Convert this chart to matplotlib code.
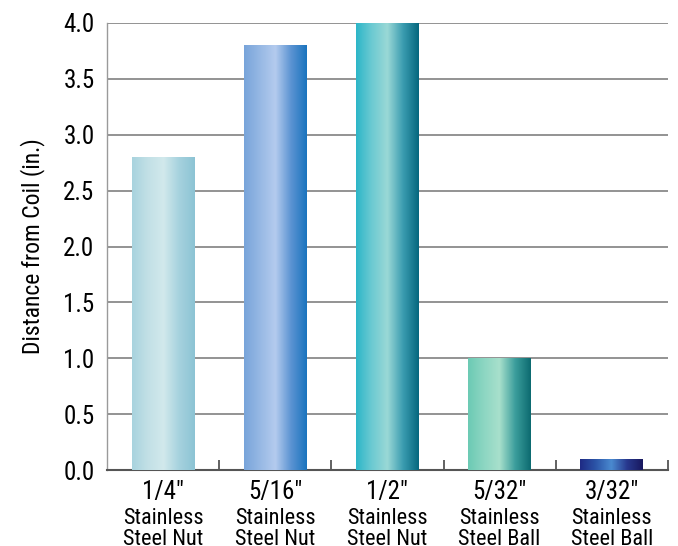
import numpy as np
import matplotlib.pyplot as plt
from matplotlib.colors import LinearSegmentedColormap

plt.rcParams['font.family'] = ['Roboto Condensed', 'Archivo Narrow', 'DejaVu Sans']

# Data
sizes = ['1/4"', '5/16"', '1/2"', '5/32"', '3/32"']
materials = ['Stainless\nSteel Nut', 'Stainless\nSteel Nut', 'Stainless\nSteel Nut',
             'Stainless\nSteel Ball', 'Stainless\nSteel Ball']
distances = [2.8, 3.8, 4.0, 1.0, 0.1]

# gradient colour stops per bar (left -> right)
bar_gradients = [
    ['#a8d3de', '#c2e0e6', '#d2e9ec', '#a6d2de', '#8cc3d4'],
    ['#78a4da', '#96b8e4', '#b4cbee', '#5b93d2', '#1a74be'],
    ['#2cb6c8', '#6ccad2', '#9ad8d6', '#3a9cb0', '#06677e'],
    ['#6ccab4', '#8cd6c2', '#a8e0cc', '#3c9e9c', '#0c6a70'],
    ['#1e2a84', '#2c55a8', '#4a8ad0', '#28388e', '#18185e'],
]

fig = plt.figure(figsize=(6.78, 5.46), dpi=100)
ax = fig.add_axes([0.158, 0.139, 0.827, 0.819])

x = np.arange(len(sizes))
bars = ax.bar(x, distances, width=0.56, color='none', zorder=3)

grad = np.linspace(0, 1, 256).reshape(1, -1)
for b, stops in zip(bars, bar_gradients):
    cmap = LinearSegmentedColormap.from_list('g', stops)
    x0, y0 = b.get_x(), b.get_y()
    im = ax.imshow(grad, cmap=cmap, aspect='auto', zorder=3,
                   extent=(x0, x0 + b.get_width(), y0, y0 + b.get_height()))
    im.set_clip_path(b)

ax.set_xlim(-0.5, 4.5)
ax.set_ylim(0, 4.0)
ax.set_yticks(np.arange(0, 4.01, 0.5))
ax.set_yticklabels([f'{v:.1f}' for v in np.arange(0, 4.01, 0.5)], fontsize=18)
ax.tick_params(axis='y', length=0, pad=9)
ax.yaxis.grid(True, color='#8a8a8a', linewidth=1.3, zorder=0)
ax.set_axisbelow(True)

ax.set_xticks(x + 0.5)
ax.set_xticklabels([])
ax.tick_params(axis='x', direction='in', length=7, width=1.3, color='#555555')

for s in ['top', 'right']:
    ax.spines[s].set_visible(False)
ax.spines['left'].set_color('#9a9a9a')
ax.spines['left'].set_linewidth(1.0)
ax.spines['bottom'].set_color('#555555')
ax.spines['bottom'].set_linewidth(1.5)

ax.set_ylabel('Distance from Coil (in.)', fontsize=17, labelpad=13)

for i in range(len(sizes)):
    ax.annotate(sizes[i], xy=(i, 0), xycoords=('data', 'axes fraction'),
                xytext=(0, -7), textcoords='offset points',
                ha='center', va='top', fontsize=18)
    ax.annotate(materials[i], xy=(i, 0), xycoords=('data', 'axes fraction'),
                xytext=(0, -27), textcoords='offset points',
                ha='center', va='top', fontsize=16, linespacing=1.05)

fig.savefig('out.png', dpi=100)
